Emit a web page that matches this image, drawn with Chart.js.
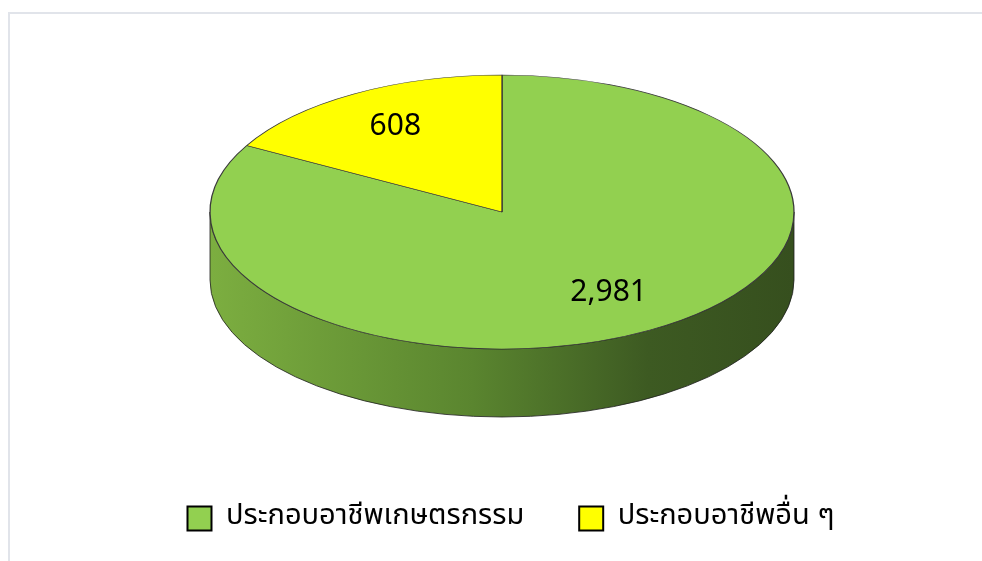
<!DOCTYPE html>
<html>
<head>
<meta charset="utf-8">
<script src="https://cdn.jsdelivr.net/npm/chart.js@4"></script>
<style>
  html, body { margin: 0; padding: 0; background: #fff; overflow: hidden; }
  #wrap { position: relative; width: 982px; height: 561px; overflow: hidden; }
  #frame { position: absolute; left: 8px; top: 12px; width: 1000px; height: 600px; border: 2px solid #e1e4ea; box-sizing: border-box; }
  #c { position: absolute; left: 0; top: 0; }
</style>
</head>
<body>
<div id="wrap">
  <div id="frame"></div>
  <canvas id="c" width="982" height="600"></canvas>
</div>
<script>
const categories = ['ประกอบอาชีพเกษตรกรรม', 'ประกอบอาชีพอื่น ๆ'];
const values = [2981, 608];
const colors = ['#92d050', '#ffff00'];

const FONT = "'Noto Sans Thai', 'Noto Sans Thai UI', Loma, Garuda, 'Tlwg Typist', 'Noto Sans', 'DejaVu Sans', sans-serif";

// top face ellipse and depth of the 3D rim
const CX = 502, CY = 212, RX = 292, RY = 137, DEPTH = 68;

const tilt = {
  id: 'tilt',
  beforeDatasetsDraw(chart) {
    const ctx = chart.ctx;
    const meta = chart.getDatasetMeta(0);
    const first = meta.data[0];
    // side wall, only the front half (angles 0..PI)
    const grad = ctx.createLinearGradient(CX - RX, 0, CX + RX, 0);
    grad.addColorStop(0, '#7cae40');
    grad.addColorStop(0.45, '#5a852f');
    grad.addColorStop(0.75, '#3d5a22');
    grad.addColorStop(1, '#364f1e');
    meta.data.forEach(arc => {
      [[0, Math.PI], [2 * Math.PI, 3 * Math.PI]].forEach(([lo, hi]) => {
        const s = Math.max(arc.startAngle, lo);
        const e = Math.min(arc.endAngle, hi);
        if (e <= s) return;
        ctx.save();
        ctx.beginPath();
        ctx.ellipse(CX, CY, RX, RY, 0, s, e);
        ctx.ellipse(CX, CY + DEPTH, RX, RY, 0, e, s, true);
        ctx.closePath();
        ctx.fillStyle = grad;
        ctx.fill();
        ctx.lineWidth = 1;
        ctx.strokeStyle = 'rgba(30,30,30,0.8)';
        ctx.stroke();
        ctx.restore();
      });
    });
    ctx.save();
    ctx.translate(CX, CY);
    ctx.scale(RX / first.outerRadius, RY / first.outerRadius);
    ctx.translate(-first.x, -first.y);
  },
  afterDatasetsDraw(chart) {
    const ctx = chart.ctx;
    ctx.restore();
    const meta = chart.getDatasetMeta(0);
    ctx.save();
    ctx.fillStyle = '#000';
    ctx.font = '30px ' + FONT;
    ctx.textAlign = 'center';
    ctx.textBaseline = 'middle';
    meta.data.forEach((arc, i) => {
      const mid = (arc.startAngle + arc.endAngle) / 2;
      const x = CX + Math.cos(mid) * RX * 0.72;
      const y = CY + Math.sin(mid) * RY * 0.7;
      ctx.fillText(values[i].toLocaleString('en-US'), x, y);
    });
    ctx.restore();
  }
};

new Chart(document.getElementById('c'), {
  type: 'pie',
  data: {
    labels: categories,
    datasets: [{
      data: values,
      backgroundColor: colors,
      borderColor: '#3a3a3a',
      borderWidth: 1,
      clip: false
    }]
  },
  options: {
    responsive: false,
    animation: false,
    layout: { padding: { bottom: 57, left: 40 } },
    plugins: {
      tooltip: { enabled: false },
      legend: {
        position: 'bottom',
        labels: {
          color: '#000',
          boxWidth: 24,
          boxHeight: 24,
          padding: 55,
          font: { size: 29, family: FONT },
          generateLabels(chart) {
            return Chart.overrides.pie.plugins.legend.labels.generateLabels(chart).map(l => {
              l.strokeStyle = '#000';
              l.lineWidth = 2;
              return l;
            });
          }
        }
      }
    }
  },
  plugins: [tilt]
});
</script>
</body>
</html>
